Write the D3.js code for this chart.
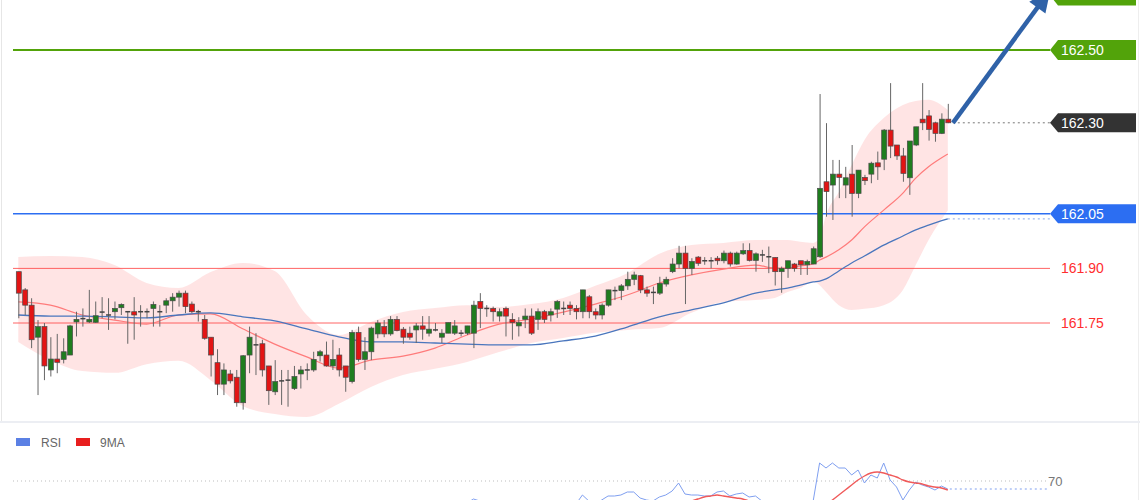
<!DOCTYPE html>
<html><head><meta charset="utf-8">
<script src="https://cdn.jsdelivr.net/npm/d3@7"></script>
<style>html,body{margin:0;padding:0;background:#fff;overflow:hidden}svg{display:block;font-family:"Liberation Sans",Arial,sans-serif}</style>
</head><body><svg id="c" width="1140" height="500"></svg>
<script>
// ---- candle data (OHLC) ----
const open=[161.891,161.841,161.799,161.711,161.740,161.621,161.651,161.650,161.662,161.753,
161.762,161.753,161.752,161.780,161.772,161.781,161.792,161.781,161.781,161.781,
161.781,161.790,161.781,161.799,161.811,161.821,161.832,161.802,161.781,161.760,
161.711,161.641,161.582,161.610,161.601,161.531,161.662,161.690,161.693,161.632,
161.561,161.591,161.593,161.570,161.610,161.621,161.621,161.660,161.662,161.632,
161.662,161.632,161.589,161.724,161.650,161.671,161.720,161.740,161.720,161.760,
161.733,161.722,161.731,161.742,161.722,161.731,161.711,161.722,161.722,161.722,
161.722,161.722,161.809,161.790,161.790,161.769,161.790,161.760,161.742,161.760,
161.769,161.760,161.781,161.772,161.788,161.790,161.799,161.790,161.781,161.822,
161.781,161.772,161.799,161.839,161.839,161.852,161.870,161.880,161.841,161.834,
161.832,161.857,161.891,161.912,161.942,161.900,161.931,161.921,161.921,161.928,
161.921,161.942,161.912,161.940,161.949,161.922,161.937,161.932,161.930,161.891,
161.900,161.912,161.921,161.910,161.912,161.932,162.138,162.129,162.159,162.129,
162.159,162.106,162.150,162.159,162.190,162.200,162.280,162.239,162.209,162.149,
162.239,162.310,162.319,162.300,162.271,162.310];
const high=[161.891,161.846,161.818,161.758,161.750,161.711,161.720,161.708,161.745,161.781,
161.790,161.841,161.809,161.821,161.818,161.809,161.804,161.781,161.821,161.799,
161.790,161.809,161.799,161.818,161.832,161.839,161.839,161.809,161.786,161.772,
161.711,161.678,161.639,161.621,161.621,161.662,161.740,161.722,161.704,161.632,
161.648,161.621,161.621,161.632,161.632,161.639,161.671,161.676,161.699,161.704,
161.681,161.632,161.731,161.740,161.711,161.740,161.758,161.758,161.769,161.769,
161.739,161.740,161.750,161.769,161.769,161.750,161.733,161.751,161.758,161.731,
161.742,161.811,161.832,161.799,161.795,161.790,161.795,161.777,161.766,161.790,
161.790,161.790,161.786,161.790,161.813,161.809,161.809,161.799,161.841,161.827,
161.790,161.804,161.841,161.850,161.857,161.891,161.891,161.882,161.850,161.850,
161.877,161.877,161.928,161.962,161.962,161.928,161.934,161.931,161.931,161.934,
161.949,161.946,161.946,161.969,161.969,161.944,161.951,161.960,161.930,161.905,
161.921,161.915,161.921,161.924,161.960,162.379,162.299,162.198,162.198,162.179,
162.239,162.170,162.157,162.193,162.221,162.283,162.409,162.239,162.231,162.250,
162.289,162.409,162.335,162.303,162.326,162.352];
const low=[161.763,161.772,161.681,161.552,161.593,161.603,161.612,161.639,161.662,161.713,
161.740,161.750,161.750,161.763,161.731,161.760,161.772,161.693,161.704,161.740,
161.763,161.740,161.740,161.777,161.781,161.795,161.777,161.777,161.754,161.704,
161.603,161.552,161.552,161.584,161.520,161.512,161.612,161.607,161.603,161.525,
161.552,161.525,161.520,161.566,161.570,161.593,161.616,161.644,161.630,161.621,
161.603,161.561,161.584,161.644,161.621,161.648,161.708,161.711,161.715,161.727,
161.693,161.704,161.695,161.704,161.713,161.727,161.695,161.722,161.717,161.713,
161.717,161.681,161.736,161.767,161.754,161.754,161.713,161.704,161.713,161.736,
161.717,161.731,161.750,161.754,161.764,161.772,161.772,161.760,161.763,161.763,
161.760,161.760,161.795,161.813,161.813,161.841,161.854,161.832,161.822,161.802,
161.827,161.850,161.887,161.900,161.802,161.882,161.907,161.910,161.900,161.910,
161.914,161.905,161.910,161.937,161.919,161.891,161.918,161.887,161.853,161.833,
161.874,161.891,161.882,161.882,161.912,161.929,162.042,162.033,162.093,162.093,
162.042,162.093,162.129,162.134,162.143,162.170,162.203,162.198,162.138,162.102,
162.236,162.280,162.251,162.248,162.269,162.299];
const close=[161.832,161.799,161.704,161.740,161.632,161.651,161.642,161.671,161.742,161.760,
161.762,161.760,161.770,161.780,161.772,161.790,161.801,161.781,161.772,161.781,
161.781,161.801,161.781,161.811,161.821,161.832,161.795,161.781,161.781,161.708,
161.662,161.582,161.621,161.591,161.531,161.660,161.711,161.690,161.621,161.564,
161.589,161.591,161.593,161.603,161.621,161.621,161.650,161.671,161.632,161.650,
161.621,161.601,161.724,161.650,161.671,161.736,161.750,161.720,161.760,161.729,
161.711,161.711,161.742,161.733,161.733,161.731,161.722,161.751,161.742,161.722,
161.742,161.799,161.790,161.790,161.781,161.781,161.769,161.751,161.751,161.769,
161.722,161.781,161.760,161.781,161.809,161.790,161.790,161.781,161.841,161.781,
161.772,161.799,161.841,161.839,161.852,161.870,161.882,161.841,161.832,161.834,
161.859,161.870,161.912,161.942,161.900,161.919,161.914,161.921,161.921,161.921,
161.942,161.912,161.942,161.949,161.922,161.940,161.937,161.932,161.891,161.900,
161.921,161.900,161.910,161.919,161.954,162.120,162.111,162.159,162.150,162.149,
162.106,162.170,162.141,162.189,162.179,162.280,162.236,162.209,162.161,162.250,
162.289,162.300,162.282,162.271,162.310,162.300];

// ---- indicator readings (sampled at candle indices) ----
const bandIdx=[0,5,10,15,20,25,30,35,40,45,50,55,60,65,70,75,80,85,90,95,100,105,110,115,118,120,122,124,125,126,128,130,132,135,138,140,142,145];
const bbUpper=[161.931,161.934,161.931,161.909,161.860,161.846,161.890,161.915,161.893,161.772,161.717,161.753,161.780,161.791,161.799,161.794,161.802,161.819,161.852,161.887,161.940,161.964,161.970,161.978,161.978,161.978,161.973,161.970,161.984,162.047,162.110,162.184,162.253,162.313,162.349,162.360,162.363,162.335];
const bbLower=[161.698,161.648,161.618,161.613,161.637,161.646,161.593,161.522,161.500,161.492,161.528,161.574,161.607,161.624,161.643,161.670,161.695,161.709,161.723,161.731,161.736,161.778,161.808,161.813,161.819,161.835,161.846,161.863,161.854,161.835,161.799,161.786,161.789,161.799,161.841,161.909,161.978,162.060];
const ma20=[161.808,161.799,161.772,161.758,161.747,161.772,161.775,161.734,161.692,161.657,161.626,161.648,161.659,161.681,161.717,161.747,161.761,161.780,161.802,161.827,161.860,161.882,161.898,161.909,161.901,161.901,161.907,161.912,161.923,161.931,161.951,161.978,162.014,162.060,162.107,162.148,162.179,162.214];
const ma50=[161.772,161.769,161.769,161.767,161.764,161.772,161.778,161.767,161.756,161.734,161.712,161.698,161.698,161.695,161.692,161.690,161.690,161.701,161.714,161.739,161.767,161.786,161.805,161.832,161.841,161.846,161.854,161.863,161.865,161.871,161.893,161.915,161.934,161.964,161.989,162.006,162.019,162.036];

// ---- RSI panel ----
const rsi=[45,42,38,41,36,38,37,39,44,46, 46,47,48,49,48,49,50,48,47,48, 48,49,48,49,50,50,47,46,46,42,
38,34,37,35,32,42,46,45,40,36, 38,38,38,40,42,42,45,47,43,45, 42,40,48,44,46,49,50,48,50,47,
45,45,47,46,47,47,45,48,47,46, 48,52,50,50,49,48,47,45,45,47, 44,47,46,48,50,49,48,47,56,50,
48,51,55,55,56,59,59,53,51,50, 54,56,60,68,57,56,56,55,55,59, 60,55,57,58,54,55,50,50,44,45,
48,47,48,49,50,88,83,88,83,83, 76,81,68,76,73,88,71,64,51,61, 69,66,64,61,65,62];
const rsiMA=[44,43,42,41,40,40,39,39,40,41, 41,42,43,44,45,46,47,48,48,48, 48,48,48,48,48,49,48,48,48,47,
46,44,43,41,39,39,38,38,38,38, 38,38,39,39,40,40,41,42,42,43, 43,43,44,44,45,45,46,46,47,47,
47,47,47,47,46,46,46,46,46,46, 47,47,47,48,48,48,48,48,47,47, 47,47,47,46,46,46,47,47,48,48,
48,48,49,49,49,49,49,49,49,49, 49,49,49,49,49,50,52,54,55,56, 55,54,53,52,50,49,48,47,46,45,
44,44,43,43,42,42,46,51,56,61, 66,71,75,78,79,78,76,74,71,69, 68,67,65,64,63,61];
const rsiLevel=70;
const legendNames=["RSI","9MA"];

// ---- levels / annotations ----
const levelPrices=[162.50,162.05,161.90,161.75];
const levelLabels=["162.50","162.05","161.90","161.75"];
const levelKinds=["green","blue","red","red"];
const lastPrice=162.30, lastLabel="162.30";
const offTagPrice=162.65;
const arrowFrom={i:145.8,p:162.30}, arrowTo={i:161,p:162.665};

// ---- drawing ----
const svg=d3.select("#c");
const n=close.length;
const x=d3.scaleLinear().domain([0,145]).range([18.3,947.8]);
const y=d3.scaleLinear().domain([161.75,162.50]).range([323,50]);
const yR=d3.scaleLinear().domain([0,100]).range([551,451]);
const lineStart=13, labelX=1050, tagRight=1136;
const C={green:"#52a30a",blue:"#2c6ef2",red:"#ff4a4a",dark:"#333333"};

svg.append("rect").attr("width",1140).attr("height",500).attr("fill","#fff");
svg.append("line").attr("x1",1.5).attr("x2",1.5).attr("y1",0).attr("y2",421).attr("stroke","#e6e6e6");
svg.append("line").attr("x1",1138.5).attr("x2",1138.5).attr("y1",0).attr("y2",500).attr("stroke","#eeeeee");
svg.append("rect").attr("x",0).attr("y",421).attr("width",1140).attr("height",2).attr("fill","#eceef3");

const bd=bandIdx.map((k,i)=>({k,u:bbUpper[i],l:bbLower[i],m:ma20[i],b:ma50[i]}));
svg.append("path").datum(bd)
  .attr("d",d3.area().x(d=>x(d.k)).y0(d=>y(d.l)).y1(d=>y(d.u)).curve(d3.curveMonotoneX))
  .attr("fill","#ff4d4d").attr("fill-opacity",0.15);

// level lines
levelPrices.forEach((p,i)=>{
  const k=levelKinds[i];
  svg.append("line").attr("x1",lineStart).attr("x2",labelX).attr("y1",y(p)).attr("y2",y(p))
    .attr("stroke",C[k]).attr("stroke-width",k==="green"?2:(k==="blue"?1.5:1))
    .attr("stroke-opacity",k==="red"?0.85:1);
});

// moving averages
svg.append("path").datum(bd).attr("d",d3.line().x(d=>x(d.k)).y(d=>y(d.m)).curve(d3.curveMonotoneX))
  .attr("fill","none").attr("stroke","#ff7b7b").attr("stroke-width",1.2);
svg.append("path").datum(bd).attr("d",d3.line().x(d=>x(d.k)).y(d=>y(d.b)).curve(d3.curveMonotoneX))
  .attr("fill","none").attr("stroke","#4a76bd").attr("stroke-width",1.3);

// candles
const idx=d3.range(n);
const g=svg.append("g");
g.selectAll("line.w").data(idx).join("line")
  .attr("x1",i=>x(i)+0.5).attr("x2",i=>x(i)+0.5).attr("y1",i=>y(high[i])).attr("y2",i=>y(low[i]))
  .attr("stroke","#666").attr("stroke-width",1);
const bw=5;
g.selectAll("rect.b").data(idx).join("rect")
  .attr("x",i=>x(i)-bw/2+0.5)
  .attr("y",i=>{const d=Math.abs(close[i]-open[i]);return d<0.002?y(open[i])-0.75:y(Math.max(open[i],close[i]));})
  .attr("width",bw)
  .attr("height",i=>{const d=Math.abs(close[i]-open[i]);return d<0.002?1.5:Math.max(1.5,y(Math.min(open[i],close[i]))-y(Math.max(open[i],close[i])));})
  .attr("fill",i=>{const d=close[i]-open[i];return Math.abs(d)<0.002?"#444":(d>0?"#1f7d1f":"#e31414");})
  .attr("stroke",i=>Math.abs(close[i]-open[i])<0.002?"none":"#4a4a4a").attr("stroke-width",0.7);

// dotted extensions
svg.append("line").attr("x1",x(n-1)+5).attr("x2",labelX).attr("y1",y(lastPrice)).attr("y2",y(lastPrice))
  .attr("stroke","#777").attr("stroke-dasharray","2,3");
svg.append("line").attr("x1",x(bandIdx[bandIdx.length-1])).attr("x2",labelX)
  .attr("y1",y(ma50[ma50.length-1])).attr("y2",y(ma50[ma50.length-1]))
  .attr("stroke","#8aa9e6").attr("stroke-dasharray","2,3");

// tags
function tag(p,color,label,h){
  const cy=y(p);
  svg.append("path").attr("d",`M${labelX},${cy} L${labelX+8},${cy-h/2} L${tagRight},${cy-h/2} L${tagRight},${cy+h/2} L${labelX+8},${cy+h/2} Z`).attr("fill",color);
  if(label) svg.append("text").attr("x",1061).attr("y",cy+5).attr("fill","#fff").attr("font-size",14).text(label);
}
tag(offTagPrice,C.green,null,20);
levelPrices.forEach((p,i)=>{
  const k=levelKinds[i];
  if(k==="red"){
    svg.append("text").attr("x",1061).attr("y",y(p)+5).attr("fill","#ff2e2e").attr("font-size",14).text(levelLabels[i]);
  } else tag(p,C[k],levelLabels[i],k==="green"?20:19);
});
tag(lastPrice,C.dark,lastLabel,19);

// arrow
{
  const x0=x(arrowFrom.i),y0=y(arrowFrom.p),x1=x(arrowTo.i),y1=y(arrowTo.p);
  const dx=x1-x0,dy=y1-y0,L=Math.hypot(dx,dy),ux=dx/L,uy=dy/L,px=-uy,py=ux;
  const hl=22,hw=10;
  const bx=x1-ux*hl,by=y1-uy*hl;
  svg.append("line").attr("x1",x0).attr("y1",y0).attr("x2",bx+ux*2).attr("y2",by+uy*2)
    .attr("stroke","#2f62a8").attr("stroke-width",4.5);
  svg.append("path").attr("d",`M${x1},${y1} L${bx+px*hw},${by+py*hw} L${bx-px*hw},${by-py*hw} Z`).attr("fill","#2f62a8");
}

// RSI panel
const lg=svg.append("g");
lg.append("rect").attr("x",16).attr("y",438).attr("width",14).attr("height",8).attr("fill","#5b80e4");
lg.append("text").attr("x",41).attr("y",446.5).attr("font-size",12).attr("fill","#666").text(legendNames[0]);
lg.append("rect").attr("x",76).attr("y",438).attr("width",14).attr("height",8).attr("fill","#e81e1e");
lg.append("text").attr("x",100).attr("y",446.5).attr("font-size",12).attr("fill","#666").text(legendNames[1]);

svg.append("line").attr("x1",lineStart).attr("x2",1047).attr("y1",yR(rsiLevel)).attr("y2",yR(rsiLevel))
  .attr("stroke","#bdbdbd").attr("stroke-dasharray","1,3");
svg.append("text").attr("x",1048).attr("y",yR(rsiLevel)+5).attr("font-size",13).attr("fill","#777").text(String(rsiLevel));
svg.append("path").datum(idx).attr("d",d3.line().x(i=>x(i)).y(i=>yR(rsi[i])))
  .attr("fill","none").attr("stroke","#7f9ff0").attr("stroke-width",1);
svg.append("path").datum(idx).attr("d",d3.line().x(i=>x(i)).y(i=>yR(rsiMA[i])).curve(d3.curveMonotoneX))
  .attr("fill","none").attr("stroke","#f05a5a").attr("stroke-width",1.4);
svg.append("line").attr("x1",x(n-1)+2).attr("x2",1047).attr("y1",yR(rsi[n-1])).attr("y2",yR(rsi[n-1]))
  .attr("stroke","#7f9ff0").attr("stroke-dasharray","2,3");
</script></body></html>
